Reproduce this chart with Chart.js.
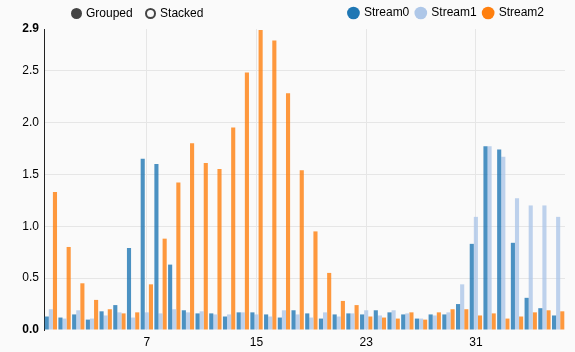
<!DOCTYPE html>
<html lang="en">
<head>
    <meta charset="UTF-8">
    <title>Streams - grouped bars</title>
    <script src="https://cdn.jsdelivr.net/npm/chart.js@4.4.1/dist/chart.umd.min.js"></script>
    <style>
        html, body { margin: 0; padding: 0; background: #fafafa; }
        .wrap { position: relative; width: 575px; height: 352px; }
        .controls { position: absolute; left: 71px; top: 6px; font: 12px "Liberation Sans", Arial, sans-serif; color: #000; }
        .controls span { display: inline-flex; align-items: center; margin-right: 9px; }
        .controls i { display: inline-block; width: 11px; height: 11px; border-radius: 50%; margin-right: 4px; box-sizing: border-box; }
        .on { background: #444; border: 2px solid #444; }
        .off { background: transparent; border: 2px solid #444; }
    </style>
</head>
<body>
<div class="wrap">
    <canvas id="chartStreams" width="575" height="352"></canvas>
    <!-- grouped / stacked switch (static) -->
    <div class="controls">
        <span><i class="on"></i>Grouped</span>
        <span><i class="off"></i>Stacked</span>
    </div>
</div>

<script>
    // data
    const categories = [0, 1, 2, 3, 4, 5, 6, 7, 8, 9, 10, 11, 12, 13, 14, 15, 16, 17, 18, 19,
        20, 21, 22, 23, 24, 25, 26, 27, 28, 29, 30, 31, 32, 33, 34, 35, 36, 37];
    const stream0 = [0.13, 0.12, 0.15, 0.10, 0.18, 0.24, 0.79, 1.65, 1.60, 0.63,
        0.19, 0.16, 0.16, 0.13, 0.17, 0.17, 0.15, 0.12, 0.19, 0.16,
        0.11, 0.15, 0.16, 0.15, 0.19, 0.17, 0.15, 0.11, 0.15, 0.15,
        0.25, 0.83, 1.77, 1.74, 0.84, 0.31, 0.21, 0.14];
    const stream1 = [0.20, 0.11, 0.19, 0.11, 0.14, 0.17, 0.12, 0.17, 0.16, 0.20,
        0.17, 0.18, 0.15, 0.15, 0.17, 0.15, 0.13, 0.19, 0.15, 0.12,
        0.17, 0.13, 0.16, 0.19, 0.14, 0.19, 0.16, 0.11, 0.14, 0.17,
        0.44, 1.09, 1.77, 1.67, 1.27, 1.20, 1.20, 1.09];
    const stream2 = [1.33, 0.80, 0.45, 0.29, 0.20, 0.16, 0.17, 0.44, 0.88, 1.42,
        1.80, 1.61, 1.55, 1.95, 2.48, 2.89, 2.79, 2.28, 1.54, 0.95,
        0.55, 0.28, 0.24, 0.13, 0.12, 0.11, 0.17, 0.10, 0.17, 0.20,
        0.20, 0.14, 0.16, 0.11, 0.13, 0.17, 0.19, 0.18];
    const seriesNames = ['Stream0', 'Stream1', 'Stream2'];
    const yTicks = [0, 0.5, 1.0, 1.5, 2.0, 2.5, 2.9];
    const xTickLabels = [7, 15, 23, 31];

    const solid = ['#1f77b4', '#aec7e8', '#ff7f0e'];
    const faded = ['rgba(31,119,180,0.8)', 'rgba(174,199,232,0.8)', 'rgba(255,127,14,0.8)'];
    const font = '"Liberation Sans", Arial, sans-serif';

    const streams = [stream0, stream1, stream2];
    const data = {
        labels: categories,
        datasets: streams.map((s, i) => ({
            label: seriesNames[i],
            data: s,
            backgroundColor: faded[i],
            borderWidth: 0,
            categoryPercentage: 0.9,
            barPercentage: 1.0
        }))
    };

    // pull the legend a bit in from the right edge
    const legendShift = {
        id: 'legendShift',
        afterLayout(chart) { chart.legend.right -= 14; }
    };

    new Chart(document.getElementById('chartStreams'), {
        type: 'bar',
        data: data,
        plugins: [legendShift],
        options: {
            responsive: false,
            animation: false,
            layout: { padding: { top: 0, right: 10, bottom: 0, left: 0 } },
            plugins: {
                tooltip: { enabled: false },
                legend: {
                    position: 'top',
                    align: 'end',
                    labels: {
                        usePointStyle: true,
                        pointStyle: 'circle',
                        boxWidth: 9,
                        boxHeight: 9,
                        padding: 7,
                        color: '#000',
                        font: { family: font, size: 12 },
                        generateLabels: (chart) => {
                            const items = Chart.defaults.plugins.legend.labels.generateLabels(chart);
                            items.forEach((it, i) => { it.fillStyle = solid[i]; it.strokeStyle = solid[i]; it.lineWidth = 0; });
                            return items;
                        }
                    }
                }
            },
            scales: {
                x: {
                    afterFit: (scale) => { scale.height = 22; },
                    grid: {
                        offset: false,
                        drawTicks: false,
                        color: (ctx) => xTickLabels.includes(categories[ctx.index]) ? '#e6e6e6' : 'rgba(0,0,0,0)'
                    },
                    border: { display: false },
                    ticks: {
                        autoSkip: false,
                        maxRotation: 0,
                        padding: 5,
                        color: '#000',
                        font: { family: font, size: 12 },
                        callback: (v, i) => xTickLabels.includes(categories[i]) ? String(categories[i]) : ''
                    }
                },
                y: {
                    min: 0,
                    max: 2.9,
                    afterBuildTicks: (scale) => { scale.ticks = yTicks.map(v => ({ value: v })); },
                    afterFit: (scale) => { scale.width = 44; },
                    grid: {
                        drawTicks: false,
                        color: (ctx) => (ctx.tick && (ctx.tick.value === 0 || ctx.tick.value === 2.9)) ? 'rgba(0,0,0,0)' : '#e6e6e6'
                    },
                    border: { display: true, color: '#222', width: 1 },
                    ticks: {
                        padding: 5,
                        color: '#000',
                        font: (ctx) => ({ family: font, size: 12, weight: (ctx.index === 0 || ctx.index === yTicks.length - 1) ? 'bold' : 'normal' }),
                        callback: (v) => Number(v).toFixed(1)
                    }
                }
            }
        }
    });
</script>
</body>
</html>
